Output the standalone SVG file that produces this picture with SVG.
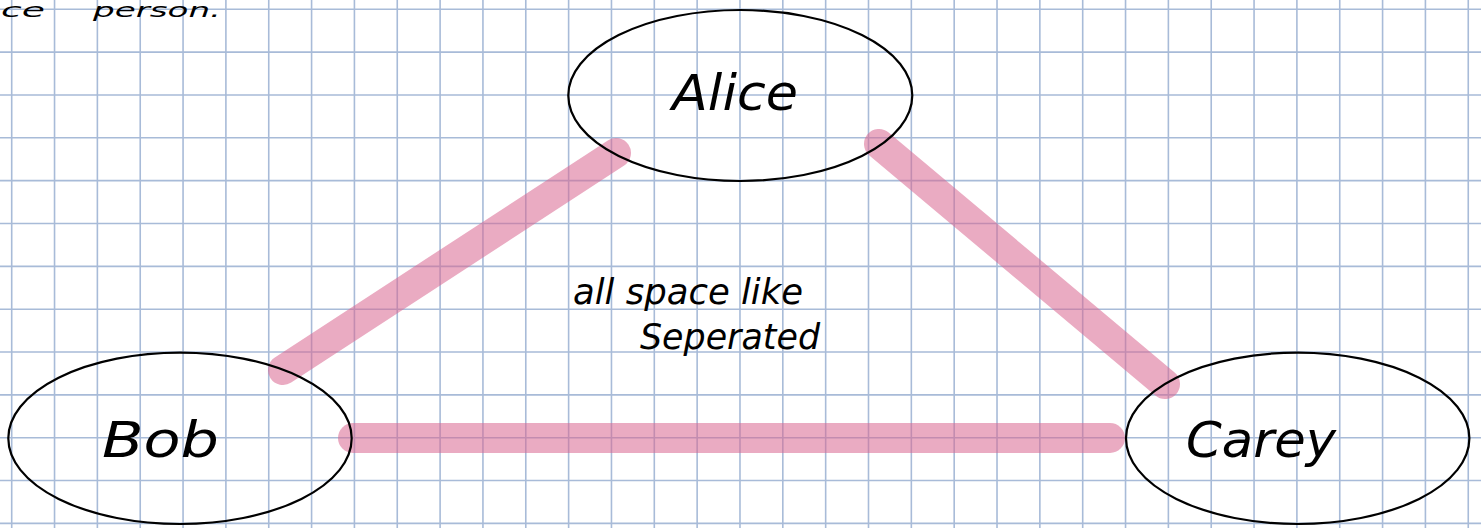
<svg xmlns="http://www.w3.org/2000/svg" width="1481" height="528" viewBox="0 0 1481 528">
<style>
.grid{stroke:#a8bbd8;stroke-width:1.6;fill:none}
.edge{stroke:#d9668f;stroke-opacity:0.55;stroke-width:30;stroke-linecap:round;fill:none}
.node{fill:none;stroke:#000;stroke-width:2.2}
.hand{font-family:"DejaVu Sans","Liberation Sans",Arial,sans-serif;fill:#000;font-style:italic;font-weight:200}
</style>
<rect width="1481" height="528" fill="#fff"/>
<g id="grid">
<path class="grid" d="M11.7 0V528M54.54 0V528M97.38 0V528M140.22 0V528M183.06 0V528M225.9 0V528M268.74 0V528M311.58 0V528M354.42 0V528M397.26 0V528M440.1 0V528M482.94 0V528M525.78 0V528M568.62 0V528M611.46 0V528M654.3 0V528M697.14 0V528M739.98 0V528M782.82 0V528M825.66 0V528M868.5 0V528M911.34 0V528M954.18 0V528M997.02 0V528M1039.86 0V528M1082.7 0V528M1125.54 0V528M1168.38 0V528M1211.22 0V528M1254.06 0V528M1296.9 0V528M1339.74 0V528M1382.58 0V528M1425.42 0V528M1468.26 0V528M0 9.3H1481M0 52.14H1481M0 94.98H1481M0 137.82H1481M0 180.66H1481M0 223.5H1481M0 266.34H1481M0 309.18H1481M0 352.02H1481M0 394.86H1481M0 437.7H1481M0 480.54H1481M0 523.38H1481"/>
</g>
<g id="connectors">
<line class="edge" x1="283" y1="370" x2="616" y2="153"/>
<line class="edge" x1="879" y1="144" x2="1165" y2="384"/>
<line class="edge" x1="353" y1="438" x2="1110" y2="438"/>
</g>
<g id="note-top">
<text class="hand" x="1" y="17" font-size="20" textLength="44" lengthAdjust="spacingAndGlyphs">ce</text>
<text class="hand" x="93" y="17" font-size="20" textLength="128" lengthAdjust="spacingAndGlyphs">person.</text>
</g>
<g id="alice">
<ellipse class="node" cx="740.3" cy="95.5" rx="172" ry="85.5"/>
<text class="hand" x="672" y="110" font-size="50" textLength="126" lengthAdjust="spacingAndGlyphs">Alice</text>
</g>
<g id="bob">
<ellipse class="node" cx="180" cy="438.3" rx="171.7" ry="85.7"/>
<text class="hand" x="102" y="457" font-size="50" textLength="117" lengthAdjust="spacingAndGlyphs">Bob</text>
</g>
<g id="carey">
<ellipse class="node" cx="1297.7" cy="438.3" rx="171.7" ry="85.7"/>
<text class="hand" x="1186" y="457" font-size="50" textLength="150" lengthAdjust="spacingAndGlyphs">Carey</text>
</g>
<g id="note-center">
<text class="hand" x="573" y="304" font-size="35" textLength="230" lengthAdjust="spacingAndGlyphs">all space like</text>
<text class="hand" x="640" y="349" font-size="35" textLength="180" lengthAdjust="spacingAndGlyphs">Seperated</text>
</g>
</svg>
